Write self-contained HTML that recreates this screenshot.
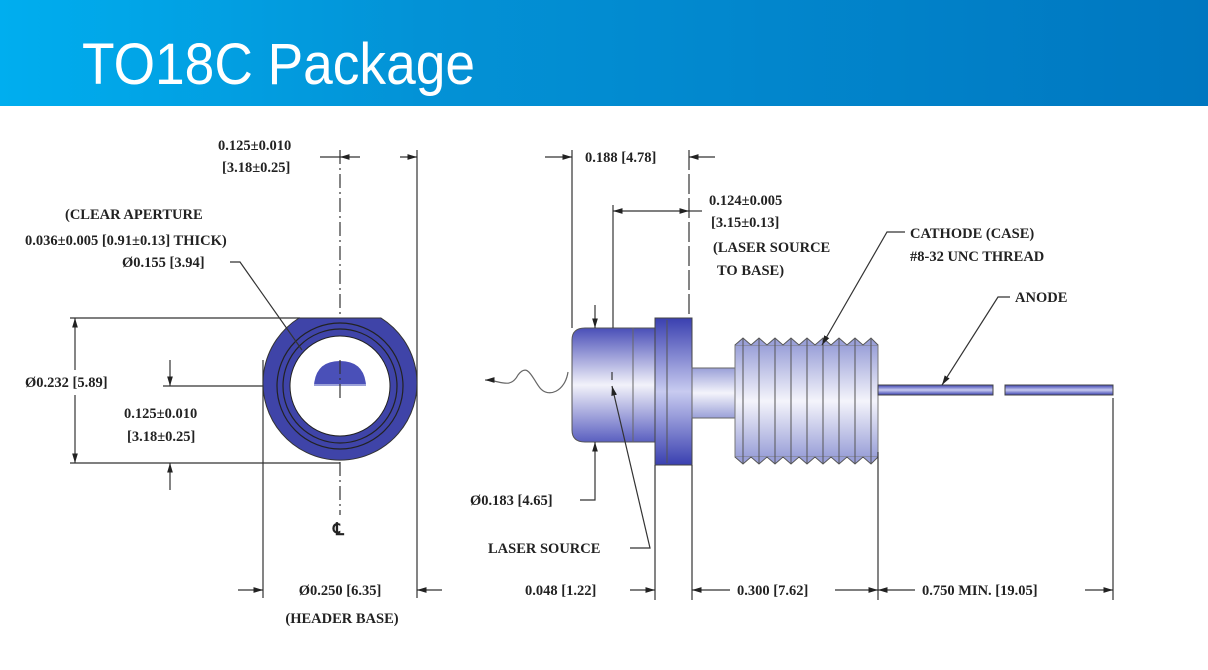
<!DOCTYPE html>
<html><head><meta charset="utf-8"><style>
html,body{margin:0;padding:0;background:#fff;width:1208px;height:670px;overflow:hidden}
svg text{font-family:"Liberation Serif",serif;font-weight:bold;font-size:14.5px;fill:#222}
</style></head><body>
<svg width="1208" height="670" viewBox="0 0 1208 670" xmlns="http://www.w3.org/2000/svg">
<defs>
<linearGradient id="hd" x1="0" x2="1" y1="0" y2="0"><stop offset="0" stop-color="#00aeef"/><stop offset="0.35" stop-color="#0392d6"/><stop offset="1" stop-color="#0077c0"/></linearGradient>
<linearGradient id="cyl" x1="0" x2="0" y1="0" y2="1"><stop offset="0" stop-color="#4a4fb8"/><stop offset="0.5" stop-color="#f2f2fa"/><stop offset="1" stop-color="#5a5fc0"/></linearGradient>
<linearGradient id="thr" x1="0" x2="0" y1="0" y2="1"><stop offset="0" stop-color="#9aa0d8"/><stop offset="0.5" stop-color="#f4f4fb"/><stop offset="1" stop-color="#9aa0d8"/></linearGradient>
<linearGradient id="fl" x1="0" x2="0" y1="0" y2="1"><stop offset="0" stop-color="#3a40b0"/><stop offset="0.5" stop-color="#c8cbf0"/><stop offset="1" stop-color="#3a40b0"/></linearGradient>
<marker id="a" viewBox="0 0 10 10" refX="10" refY="5" markerWidth="8" markerHeight="8" orient="auto-start-reverse"><path d="M0,2 L10,5 L0,8 z" fill="#222"/></marker>
</defs>
<rect x="0" y="0" width="1208" height="106" fill="url(#hd)"/>
<text x="82" y="84" style="font-family:'Liberation Sans',sans-serif;font-weight:normal;font-size:58px;fill:#fff" textLength="393" lengthAdjust="spacingAndGlyphs">TO18C  Package</text>

<g stroke="#333" stroke-width="1.2" fill="none">
<line x1="340" y1="150" x2="340" y2="515" stroke-dasharray="14,4,2,4"/>
<line x1="417" y1="150" x2="417" y2="598"/>
<line x1="263" y1="360" x2="263" y2="598"/>
<line x1="320" y1="157" x2="340" y2="157"/>
<line x1="360" y1="157" x2="340" y2="157" marker-end="url(#a)"/>
<line x1="400" y1="157" x2="417" y2="157" marker-end="url(#a)"/>
<line x1="70" y1="318" x2="300" y2="318"/>
<line x1="70" y1="463" x2="340" y2="463"/>
<line x1="75" y1="340" x2="75" y2="318" marker-end="url(#a)"/>
<line x1="75" y1="340" x2="75" y2="370"/>
<line x1="75" y1="395" x2="75" y2="463" marker-end="url(#a)"/>
<line x1="163" y1="386" x2="340" y2="386"/>
<line x1="170" y1="360" x2="170" y2="386" marker-end="url(#a)"/>
<line x1="170" y1="490" x2="170" y2="463" marker-end="url(#a)"/>
<line x1="238" y1="590" x2="263" y2="590" marker-end="url(#a)"/>
<line x1="442" y1="590" x2="417" y2="590" marker-end="url(#a)"/>
</g>
<path d="M299,318 L381,318 A77,77 0 1 1 299,318 Z" fill="#3f44a8" stroke="#333" stroke-width="1"/>
<circle cx="340" cy="386" r="63" fill="none" stroke="#222" stroke-width="1.2"/>
<circle cx="340" cy="386" r="57" fill="none" stroke="#222" stroke-width="1.2"/>
<circle cx="340" cy="386" r="50" fill="#fff" stroke="#222" stroke-width="1"/>
<path d="M314,385 Q316,361 340,361 Q364,361 366,385 Z" fill="#4a50b8"/>
<line x1="314" y1="385" x2="366" y2="385" stroke="#9aa0d8" stroke-width="2"/>
<line x1="340" y1="360" x2="340" y2="400" stroke="#333" stroke-width="1.2" stroke-dasharray="14,4,2,4"/>
<polyline points="230,262 240,262 302,350" fill="none" stroke="#333" stroke-width="1.2"/>

<text x="218" y="150">0.125±0.010</text>
<text x="222" y="172">[3.18±0.25]</text>
<text x="65" y="219">(CLEAR APERTURE</text>
<text x="25" y="245">0.036±0.005 [0.91±0.13] THICK)</text>
<text x="122" y="267">Ø0.155 [3.94]</text>
<text x="25" y="387">Ø0.232 [5.89]</text>
<text x="124" y="418">0.125±0.010</text>
<text x="127" y="441">[3.18±0.25]</text>
<text x="333" y="535" style="font-size:17px">℄</text>
<text x="340" y="595" text-anchor="middle">Ø0.250 [6.35]</text>
<text x="342" y="623" text-anchor="middle">(HEADER BASE)</text>

<path d="M585,328 L655,328 L655,442 L585,442 Q572,442 572,430 L572,340 Q572,328 585,328 Z" fill="url(#cyl)" stroke="#555" stroke-width="1"/>
<line x1="633" y1="328" x2="633" y2="442" stroke="#666"/>
<rect x="655" y="318" width="37" height="147" fill="url(#fl)" stroke="#444"/>
<line x1="667" y1="320" x2="667" y2="463" stroke="#555"/>
<rect x="692" y="368" width="45" height="50" fill="url(#thr)" stroke="#666"/>
<rect x="735" y="345" width="143" height="112" fill="url(#thr)" stroke="#777"/>
<g stroke="#555" stroke-width="1" fill="none">
<path d="M735,345 l8,-7 l8,7 l8,-7 l8,7 l8,-7 l8,7 l8,-7 l8,7 l8,-7 l8,7 l8,-7 l8,7 l8,-7 l8,7 l8,-7 l8,7 l8,-7 l7,7" fill="#9aa0d8"/>
<path d="M735,457 l8,7 l8,-7 l8,7 l8,-7 l8,7 l8,-7 l8,7 l8,-7 l8,7 l8,-7 l8,7 l8,-7 l8,7 l8,-7 l8,7 l8,-7 l8,7 l7,-7" fill="#9aa0d8"/>
<line x1="743" y1="338" x2="743" y2="464"/><line x1="759" y1="338" x2="759" y2="464"/><line x1="775" y1="338" x2="775" y2="464"/><line x1="791" y1="338" x2="791" y2="464"/><line x1="807" y1="338" x2="807" y2="464"/><line x1="823" y1="338" x2="823" y2="464"/><line x1="839" y1="338" x2="839" y2="464"/><line x1="855" y1="338" x2="855" y2="464"/><line x1="871" y1="338" x2="871" y2="464"/>
</g>
<rect x="878" y="385" width="115" height="10" fill="url(#fl)" stroke="#444"/>
<rect x="1005" y="385" width="108" height="10" fill="url(#fl)" stroke="#444"/>

<g stroke="#333" stroke-width="1.2" fill="none">
<line x1="572" y1="150" x2="572" y2="328"/>
<line x1="613" y1="205" x2="613" y2="328"/>
<line x1="689" y1="150" x2="689" y2="318" stroke-dasharray="20,4"/>
<line x1="545" y1="157" x2="572" y2="157" marker-end="url(#a)"/>
<line x1="715" y1="157" x2="689" y2="157" marker-end="url(#a)"/>
<line x1="650" y1="211" x2="613" y2="211" marker-end="url(#a)"/>
<line x1="650" y1="211" x2="689" y2="211" marker-end="url(#a)"/>
<line x1="689" y1="211" x2="702" y2="211"/>
<line x1="595" y1="305" x2="595" y2="328" marker-end="url(#a)"/>
<polyline points="580,500 595,500 595,442" marker-end="url(#a)"/>
<polyline points="630,548 650,548 612,386" marker-end="url(#a)"/>
<path d="M568,372 C565,392 548,398 540,388 C532,378 528,362 518,375 C510,390 500,380 485,380" stroke="#666" marker-end="url(#a)"/>
<line x1="612" y1="372" x2="612" y2="380"/>
<line x1="655" y1="465" x2="655" y2="600"/>
<line x1="692" y1="465" x2="692" y2="600"/>
<line x1="878" y1="452" x2="878" y2="600"/>
<line x1="1113" y1="398" x2="1113" y2="600"/>
<line x1="630" y1="590" x2="655" y2="590" marker-end="url(#a)"/>
<line x1="730" y1="590" x2="692" y2="590" marker-end="url(#a)"/>
<line x1="835" y1="590" x2="878" y2="590" marker-end="url(#a)"/>
<line x1="915" y1="590" x2="878" y2="590" marker-end="url(#a)"/>
<line x1="1085" y1="590" x2="1113" y2="590" marker-end="url(#a)"/>
<polyline points="905,232 887,232 822,345" marker-end="url(#a)"/>
<polyline points="1010,297 998,297 942,385" marker-end="url(#a)"/>
</g>
<text x="585" y="162">0.188 [4.78]</text>
<text x="709" y="205">0.124±0.005</text>
<text x="711" y="227">[3.15±0.13]</text>
<text x="713" y="252">(LASER SOURCE</text>
<text x="717" y="275">TO BASE)</text>
<text x="910" y="238">CATHODE (CASE)</text>
<text x="910" y="261">#8-32 UNC THREAD</text>
<text x="1015" y="302">ANODE</text>
<text x="470" y="505">Ø0.183 [4.65]</text>
<text x="488" y="553">LASER SOURCE</text>
<text x="525" y="595">0.048 [1.22]</text>
<text x="737" y="595">0.300 [7.62]</text>
<text x="922" y="595">0.750 MIN. [19.05]</text>
</svg>
</body></html>
